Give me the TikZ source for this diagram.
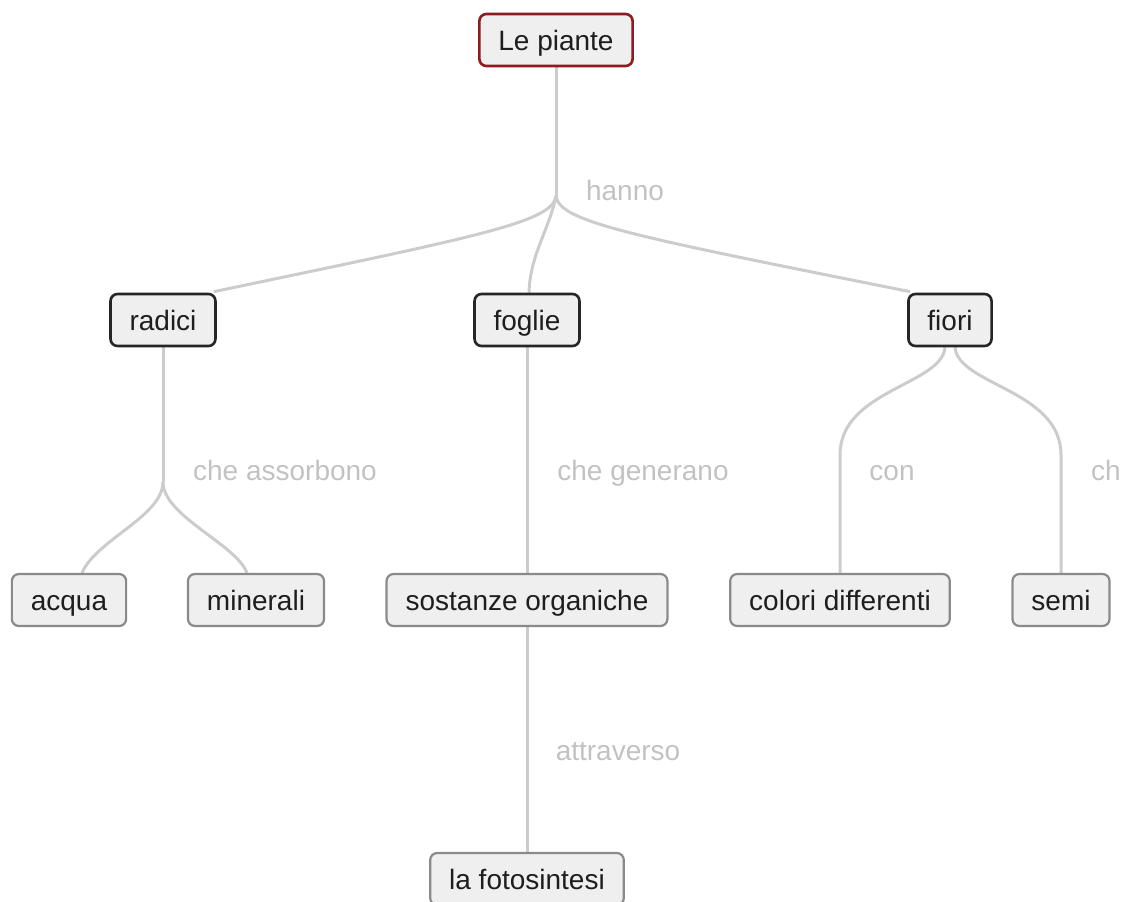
\documentclass[tikz,border=0pt]{standalone}
\usepackage{fontspec}
\setmainfont{Liberation Sans}
\usetikzlibrary{backgrounds}
\begin{document}
\begin{tikzpicture}[x=1pt,y=-1pt,
  every node/.style={font=\fontsize{28}{30}\selectfont},
  basebox/.style={draw, fill=boxfill, rounded corners=7pt, text=nodetext,
    minimum height=52pt, inner xsep=19pt, inner ysep=0pt,
    text height=20pt, text depth=0pt},
  rootbox/.style={basebox, draw=rootred, line width=2.6pt},
  mainbox/.style={basebox, draw=black!85, line width=2.6pt},
  leafbox/.style={basebox, draw=leafgrey, line width=2.2pt},
  link/.style={draw=linkgrey, line width=3pt},
  linklabel/.style={text=labelgrey, anchor=base, inner sep=0pt}]
\definecolor{boxfill}{HTML}{EFEFEF}
\definecolor{nodetext}{HTML}{1E1E1E}
\definecolor{rootred}{HTML}{8E1B1F}
\definecolor{leafgrey}{HTML}{8A8A8A}
\definecolor{linkgrey}{HTML}{CCCCCC}
\definecolor{labelgrey}{HTML}{C2C2C2}

\useasboundingbox (0,0) rectangle (1125,902);

% concept boxes
\node[rootbox] (lp) at (556,40) {Le piante};
\node[mainbox] (radici) at (163,320) {radici};
\node[mainbox] (foglie) at (527,320) {foglie};
\node[mainbox] (fiori) at (950,320) {fiori};
\node[leafbox] (acqua) at (69,600) {acqua};
\node[leafbox] (minerali) at (256,600) {minerali};
\node[leafbox] (sostanze) at (527,600) {sostanze organiche};
\node[leafbox] (colori) at (840,600) {colori differenti};
\node[leafbox] (semi) at (1061,600) {semi};
\node[leafbox] (foto) at (527,879) {la fotosintesi};

% junction and bend points
\coordinate (hub) at (556,196);
\coordinate (rhub) at (163,482);
\coordinate (cbend) at (840,455);
\coordinate (sbend) at (1061,455);

% connectors, kept underneath the boxes
\begin{scope}[on background layer]
\path[link] (lp.south) -- (hub);
\path[link] (hub) .. controls (553,222) and (480,236) .. ([xshift=-3pt,yshift=1pt]radici.north east);
\path[link] (hub) .. controls (549,230) and (530,255) .. ([xshift=2pt]foglie.north);
\path[link] (hub) .. controls (559,222) and (632,236) .. ([xshift=3pt,yshift=1pt]fiori.north west);

\path[link] (radici.south) -- (rhub);
\path[link] (rhub) .. controls (163,516) and (96,540) .. ([xshift=13pt]acqua.north);
\path[link] (rhub) .. controls (163,516) and (236,544) .. ([xshift=-9pt]minerali.north);

\path[link] (foglie.south) -- (sostanze.north);

\path[link] ([xshift=-5pt]fiori.south) .. controls (942,385) and (840,390) .. (cbend) -- (colori.north);
\path[link] ([xshift=5pt]fiori.south) .. controls (958,385) and (1061,390) .. (sbend) -- (semi.north);

\path[link] (sostanze.south) -- (foto.north);
\end{scope}

% connector labels
\node[linklabel] (lhanno) at (625,200) {hanno};
\node[linklabel] (lassorb) at (285,480) {che assorbono};
\node[linklabel] (lgener) at (643,480) {che generano};
\node[linklabel] (lcon) at (892,480) {con};
\node[linklabel, anchor=base west] (lch) at (1091,480) {ch};
\node[linklabel] (lattr) at (618,760) {attraverso};
\end{tikzpicture}
\end{document}
